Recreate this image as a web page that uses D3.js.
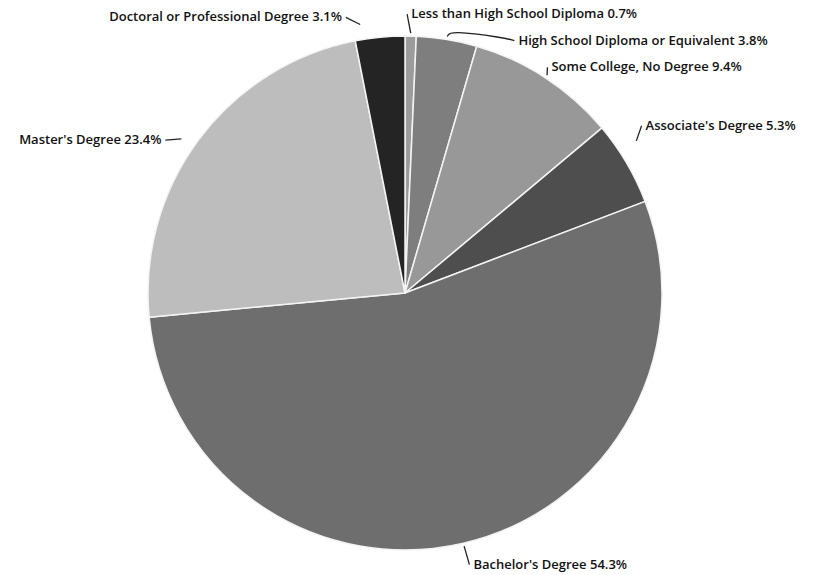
<!DOCTYPE html>
<html>
<head>
<meta charset="utf-8">
<script src="https://cdn.jsdelivr.net/npm/d3@7"></script>
<style>
  body { margin: 0; background: #fff; }
  svg { display: block; }
  .label { font-family: "Open Sans", sans-serif; font-weight: 600; font-size: 13px; fill: #111; }
</style>
</head>
<body>
<svg width="815" height="575"></svg>
<script>
// education levels, clockwise from 12 o'clock
let categories = [
    "Less than High School Diploma",
    "High School Diploma or Equivalent",
    "Some College, No Degree",
    "Associate's Degree",
    "Bachelor's Degree",
    "Master's Degree",
    "Doctoral or Professional Degree"
];
let shares = [0.7, 3.8, 9.4, 5.3, 54.3, 23.4, 3.1];

// grey tones of the scanned print
let tones = ["#9c9c9c", "#7e7e7e", "#989898", "#4e4e4e", "#6e6e6e", "#bdbdbd", "#242424"];

// hand nudges for the crowded labels and leader lengths (layout only)
let labelNudge = [[0, 4], [68, 27], [-6, 12], [0, -22], [5, 4], [-20, 18], [-36, 6]];
let leaderMax = [20, 70, 16, 16, 24, 16, 16];

let svg = d3.select("svg"),
    cx = 405, cy = 293,
    radius = 257;

let data = categories.map(function(c, i) { return {name: c, value: shares[i], i: i}; });

let pie = d3.pie()
    .sort(null)
    .value(function(d) { return d.value; });

let arc = d3.arc()
    .innerRadius(0)
    .outerRadius(radius);

let color = d3.scaleOrdinal().domain(categories).range(tones);

let g = svg.append("g")
    .attr("transform", "translate(" + cx + "," + cy + ")");

let arcs = pie(data);

g.selectAll("path.slice")
    .data(arcs)
    .enter()
    .append("path")
    .attr("class", "slice")
    .attr("d", arc)
    .attr("fill", function(d) { return color(d.data.name); })
    .attr("stroke", "#f4f4f4")
    .attr("stroke-width", 1.5)
    .attr("stroke-linejoin", "round");

// point at distance r along the slice middle
function polar(d, r) {
    let a = (d.startAngle + d.endAngle) / 2;
    return [r * Math.sin(a), -r * Math.cos(a)];
}

function isRight(d) {
    return (d.startAngle + d.endAngle) / 2 < Math.PI;
}

function labelPos(d) {
    let p = polar(d, radius + 22),
        n = labelNudge[d.data.i];
    return [p[0] + n[0], p[1] + n[1]];
}

// short leader marks next to each label, pointing to the slice
g.selectAll("path.leader")
    .data(arcs)
    .enter()
    .append("path")
    .attr("class", "leader")
    .attr("fill", "none")
    .attr("stroke", "#222")
    .attr("stroke-width", 1.3)
    .attr("d", function(d) {
        let t = labelPos(d),
            side = isRight(d) ? -1 : 1,
            e = [t[0] + side * 4, t[1] - 4],
            edge = polar(d, radius + 3),
            dx = edge[0] - e[0], dy = edge[1] - e[1],
            len = Math.sqrt(dx * dx + dy * dy),
            k = Math.min(1, leaderMax[d.data.i] / len),
            s = [e[0] + dx * k, e[1] + dy * k];
        if (leaderMax[d.data.i] < 40) return d3.line()([s, e]);
        // long bracket for the squeezed top label
        return d3.line().curve(d3.curveBasis)([s, [s[0] + 3, Math.min(s[1], e[1]) - 6], [e[0] - 10, e[1] - 3], e]);
    });

g.selectAll("text.label")
    .data(arcs)
    .enter()
    .append("text")
    .attr("class", "label")
    .attr("x", function(d) { return labelPos(d)[0]; })
    .attr("y", function(d) { return labelPos(d)[1]; })
    .attr("text-anchor", function(d) { return isRight(d) ? "start" : "end"; })
    .text(function(d) { return d.data.name + " " + d3.format(".1f")(d.data.value) + "%"; });
</script>
</body>
</html>
